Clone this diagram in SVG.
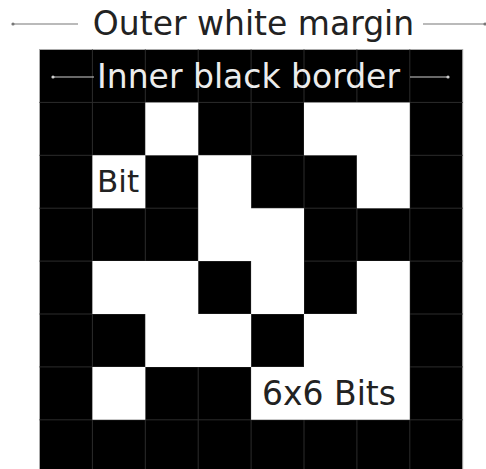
<svg xmlns="http://www.w3.org/2000/svg" width="486" height="469" viewBox="0 0 486 469">
<style>
.g{stroke:#2c2c2c;stroke-width:1}
.t{font-family:"DejaVu Sans",Verdana,sans-serif;font-size:33px}
.dk{fill:#222}
.lt{fill:#ececec}
.cl{stroke:#777;stroke-width:1.2;fill:none}
.cli{stroke:#cfcfcf;stroke-width:1.2;fill:none}
</style>
<rect width="486" height="469" fill="#fff"/>
<g id="marker">
<rect x="39.5" y="49.5" width="423.2" height="423.2" fill="#000" stroke="#aaa" stroke-width="1"/>
<g class="g">
<line x1="92.4" y1="49.5" x2="92.4" y2="472.7"/>
<line x1="145.3" y1="49.5" x2="145.3" y2="472.7"/>
<line x1="198.2" y1="49.5" x2="198.2" y2="472.7"/>
<line x1="251.1" y1="49.5" x2="251.1" y2="472.7"/>
<line x1="304" y1="49.5" x2="304" y2="472.7"/>
<line x1="356.9" y1="49.5" x2="356.9" y2="472.7"/>
<line x1="409.8" y1="49.5" x2="409.8" y2="472.7"/>
<line x1="39.5" y1="102.4" x2="462.7" y2="102.4"/>
<line x1="39.5" y1="155.3" x2="462.7" y2="155.3"/>
<line x1="39.5" y1="208.2" x2="462.7" y2="208.2"/>
<line x1="39.5" y1="261.1" x2="462.7" y2="261.1"/>
<line x1="39.5" y1="314" x2="462.7" y2="314"/>
<line x1="39.5" y1="366.9" x2="462.7" y2="366.9"/>
<line x1="39.5" y1="419.8" x2="462.7" y2="419.8"/>
</g>
<g id="bits">
<path fill="#fff" d="
M145.3 102.4H198.2V155.3H145.3Z
M304 102.4H409.8V208.2H356.9V155.3H304Z
M92.4 155.3H145.3V208.2H92.4Z
M198.2 155.3H251.1V208.2H304V314H251.1V261.1H198.2Z
M92.4 261.1H198.2V314H251.1V366.9H145.3V314H92.4Z
M356.9 261.1H409.8V419.8H251.1V366.9H304V314H356.9Z
M92.4 366.9H145.3V419.8H92.4Z"/>
</g>
</g>
<g id="connectors">
<line class="cl" x1="13" y1="24" x2="78" y2="24"/>
<circle cx="13" cy="24" r="1.6" fill="#777"/>
<line class="cl" x1="423" y1="24" x2="485" y2="24"/>
<circle cx="485" cy="24" r="1.6" fill="#777"/>
<line class="cli" x1="53" y1="77" x2="94" y2="77"/>
<circle cx="53" cy="77" r="1.6" fill="#cfcfcf"/>
<line class="cli" x1="410" y1="77" x2="448" y2="77"/>
<circle cx="448" cy="77" r="1.6" fill="#cfcfcf"/>
</g>
<g id="outer-label"><text class="t dk" x="253.5" y="35" text-anchor="middle">Outer white margin</text></g>
<g id="inner-label"><text class="t lt" x="248.5" y="88" text-anchor="middle">Inner black border</text></g>
<g id="bit-label"><text class="t dk" x="97" y="192" style="font-size:31px">Bit</text></g>
<g id="bits-label"><text class="t dk" x="262" y="405">6x6 Bits</text></g>
</svg>
